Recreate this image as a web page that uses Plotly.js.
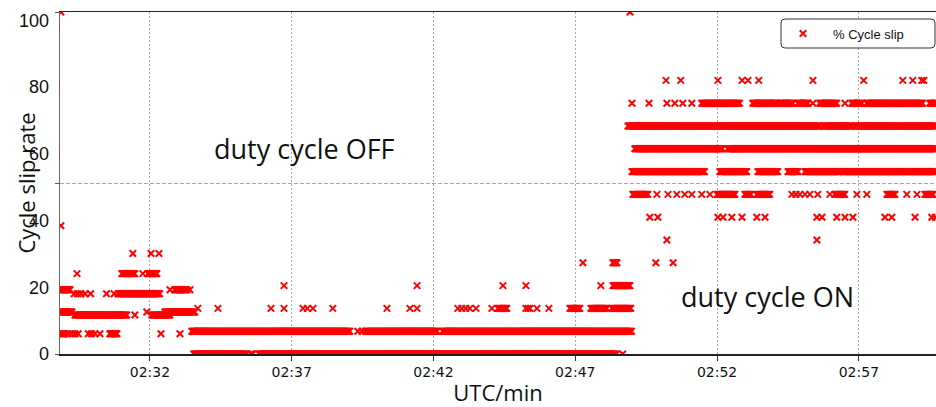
<!DOCTYPE html>
<html>
<head>
<meta charset="utf-8">
<script src="https://cdn.plot.ly/plotly-3.0.1.min.js"></script>
<style>html,body{margin:0;padding:0;background:#fff;}#chart{width:936px;height:407px;}</style>
</head>
<body>
<div id="chart"></div>
<script>
// Time axis: minutes after 02:00 UTC. Each entry is either [t] (single sample)
// or [tStart, tEnd] (a dense run of samples at that slip level).
const xTickVals = [32, 37, 42, 47, 52, 57];
const xTickText = ["02:32", "02:37", "02:42", "02:47", "02:52", "02:57"];
const yTickVals = [0, 20, 40, 60, 80, 100];
const yTickText = ["0", "20", "40", "60", "80", "100"];
const sampleStep = 0.035; // minutes between samples inside a dense run

// duty cycle OFF, first minutes
const slip37_5 = [[28.86]];
const slip29_4 = [[31.40], [32.04], [32.32]];
const slip23_5 = [[29.43], [31.01, 31.47], [31.75], [31.93, 32.25]];
const slip18_8 = [[28.83, 29.18], [32.71], [32.88, 33.30], [33.41]];
const slip17_6 = [[29.33], [29.45], [29.57], [29.71], [29.91], [30.47], [30.74], [30.88], [30.94, 32.35]];
const slip12_3 = [[28.83, 29.25], [31.89], [32.53, 33.59]];
const slip11_4 = [[29.36, 31.19], [31.47], [32.07, 32.71]];
const slip5_9 = [[28.86, 29.0], [29.12], [29.24], [29.36], [29.47], [29.83], [29.94], [30.06], [30.24], [30.59, 30.84], [32.39], [33.06]];

// duty cycle OFF, main part
const slip0 = [[33.55, 35.42], [35.55, 35.62], [35.85, 48.47], [48.67]];
const slip6_7 = [[33.48, 39.05], [39.33], [39.48], [39.60, 42.12], [42.33, 49.00]];
const slip13_3 = [[33.69], [34.40], [36.27], [36.73], [37.40], [37.55], [37.75], [38.45], [40.36], [41.17], [41.42],
  [42.86], [43.00], [43.14], [43.28], [43.50], [44.06], [44.27, 44.59], [45.26], [45.33], [45.40], [45.65], [46.07],
  [46.81, 47.16], [47.55, 48.11], [48.29, 48.96]];
const slip20 = [[36.73], [41.42], [44.45], [45.26], [47.90], [48.33, 48.93]];
const slip26_7 = [[47.27], [48.33, 48.47], [49.84], [50.45]];

// duty cycle ON
const slip33_3 = [[50.23], [55.52]];
const slip40 = [[49.63], [49.91], [52.03], [52.21], [52.52], [52.88], [53.40], [53.69], [55.52], [55.70], [56.22],
  [56.51], [56.79], [57.92], [58.16], [58.98], [59.57], [59.70]];
const slip46_7 = [[49.03, 49.56], [49.88], [50.27], [50.58], [50.86], [51.11], [51.46], [51.75], [52.00, 52.63],
  [52.98, 53.20], [53.40, 53.86], [54.64], [54.78], [54.92], [55.10], [55.27], [55.55], [55.98], [56.15, 56.51],
  [56.93], [57.28], [57.99, 58.27], [58.69], [59.05], [59.33, 59.61]];
const slip53_3 = [[49.00, 51.57], [52.10, 53.05], [53.44, 54.14], [54.50, 54.85], [55.10, 56.33], [56.44, 59.72]];
const slip60 = [[49.10, 52.21], [52.38, 59.72]];
const slip66_7 = [[48.86, 55.62], [55.75, 56.75], [56.86, 59.72]];
const slip73_3 = [[49.00], [49.60], [50.23], [50.51], [50.79], [51.11], [51.46, 52.80], [53.26, 54.11], [54.21, 54.67],
  [54.85, 55.20], [55.38], [55.62, 56.22], [56.51], [56.75, 57.10], [57.28, 59.26], [59.50, 59.72]];
const slip80 = [[50.20], [50.72], [52.03], [52.88], [53.09], [53.47], [55.38], [57.17], [58.55], [58.90], [59.22], [59.29]];
const slip100 = [[28.86], [48.93]];

const levelTable = [
  [37.5, slip37_5], [29.4, slip29_4], [23.5, slip23_5], [18.8, slip18_8], [17.6, slip17_6],
  [12.3, slip12_3], [11.4, slip11_4], [5.9, slip5_9],
  [0, slip0], [6.67, slip6_7], [13.33, slip13_3], [20, slip20], [26.67, slip26_7],
  [33.33, slip33_3], [40, slip40], [46.67, slip46_7], [53.33, slip53_3], [60, slip60],
  [66.67, slip66_7], [73.33, slip73_3], [80, slip80], [100, slip100]
];

const xs = [], ys = [];
levelTable.forEach(([lvl, runs]) => {
  runs.forEach(r => {
    if (r.length === 1) { xs.push(r[0]); ys.push(lvl); }
    else {
      for (let t = r[0]; t <= r[1] + 1e-9; t += sampleStep) { xs.push(t); ys.push(lvl); }
    }
  });
});

const trace = {
  type: 'scatter', mode: 'markers', x: xs, y: ys, name: '% Cycle slip',
  marker: { symbol: 'x-thin', size: 6.5, color: '#ff0000', line: { color: '#ff0000', width: 2 } },
  hoverinfo: 'x+y'
};
const labelTrace = { type: 'scatter', mode: 'markers', x: [null], y: [null], yaxis: 'y2', showlegend: false, hoverinfo: 'skip' };

const W = 936, L = 60, R = 0, T = 12, B = 53;
const pw = W - L - R, ph = 407 - T - B;
const px2x = p => (p - L) / pw;
const py2y = p => (407 - B - p) / ph;
// rounded legend frame
const bx0 = px2x(781), bx1 = px2x(935), by0 = py2y(48), by1 = py2y(19);
const rx = 4 / pw, ry = 4 / ph;
const framePath = `M ${bx0 + rx} ${by1} L ${bx1 - rx} ${by1} Q ${bx1} ${by1} ${bx1} ${by1 - ry} L ${bx1} ${by0 + ry} Q ${bx1} ${by0} ${bx1 - rx} ${by0} L ${bx0 + rx} ${by0} Q ${bx0} ${by0} ${bx0} ${by0 + ry} L ${bx0} ${by1 - ry} Q ${bx0} ${by1} ${bx0 + rx} ${by1} Z`;

const layout = {
  width: 936, height: 407,
  margin: { l: L, r: R, t: T, b: B, pad: 0 },
  paper_bgcolor: '#ffffff', plot_bgcolor: '#ffffff',
  showlegend: true,
  legend: {
    x: px2x(773), y: py2y(33.5), xanchor: 'left', yanchor: 'middle',
    bgcolor: 'rgba(0,0,0,0)', borderwidth: 0, itemwidth: 50,
    font: { family: 'Liberation Sans, Arial, sans-serif', size: 13, color: '#111' }
  },
  xaxis: {
    range: [28.83, 59.72], tickmode: 'array', tickvals: xTickVals, ticktext: xTickText,
    ticks: 'outside', ticklen: 5, tickcolor: '#333', tickwidth: 1,
    showgrid: true, gridcolor: '#a8a8a8', griddash: '2px,2px', gridwidth: 1,
    showline: true, linecolor: '#222', linewidth: 1.5, mirror: true, zeroline: false,
    tickfont: { family: 'DejaVu Sans, sans-serif', size: 14, color: '#111' },
    title: { text: 'UTC/min', font: { family: 'Open Sans, sans-serif', size: 22, color: '#111' }, standoff: 11 }
  },
  yaxis: {
    range: [0, 100], tickmode: 'array', tickvals: [0, 50, 100], showticklabels: false,
    ticks: 'outside', ticklen: 4, tickcolor: '#555',
    showgrid: true, gridcolor: '#a8a8a8', griddash: '4px,2px', gridwidth: 1,
    showline: true, linecolor: '#666', linewidth: 1.5, zeroline: false,
    title: { text: 'Cycle slip rate', font: { family: 'Open Sans, sans-serif', size: 22, color: '#111' }, standoff: 13 }
  },
  yaxis2: {
    overlaying: 'y', side: 'left', anchor: 'x', range: [0, 102.5], tickmode: 'array',
    tickvals: yTickVals, ticktext: yTickText, ticks: '', showline: false, showgrid: false, zeroline: false,
    ticklabelstandoff: 10,
    tickfont: { family: 'Liberation Sans, Arial, sans-serif', size: 18, color: '#111' }
  },
  shapes: [{
    type: 'path', xref: 'paper', yref: 'paper', path: framePath,
    line: { color: '#333', width: 1 }, fillcolor: '#ffffff', layer: 'above'
  }],
  annotations: [
    { x: 37.45, y: 60.1, xref: 'x', yref: 'y', text: 'duty cycle OFF', showarrow: false,
      font: { family: 'Open Sans, sans-serif', size: 27, color: '#111' } },
    { x: 53.78, y: 16.7, xref: 'x', yref: 'y', text: 'duty cycle ON', showarrow: false,
      font: { family: 'Open Sans, sans-serif', size: 27, color: '#111' } }
  ]
};

Plotly.newPlot('chart', [trace, labelTrace], layout, { displayModeBar: false, staticPlot: true });
</script>
</body>
</html>
